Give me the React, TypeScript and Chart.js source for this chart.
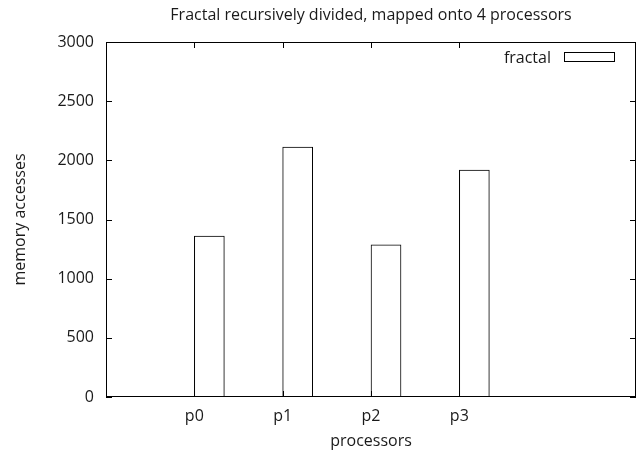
import React, { useEffect, useRef } from "react";
import { Chart, registerables } from "chart.js";

Chart.register(...registerables);

const processors = ["p0", "p1", "p2", "p3"];
const accesses = [1360, 2113, 1287, 1918];
const yTicks = [0, 500, 1000, 1500, 2000, 2500, 3000];
const seriesLabel = "fractal";
const titleText = "Fractal recursively divided, mapped onto 4 processors";
const xTitle = "processors";
const yTitle = "memory accesses";

const FONT = "'Open Sans', sans-serif";
const TEXT = "#1a1a1a";
const SIZE = 16;

const gnuplotPlugin = {
  id: "gnuplotDecor",
  afterDraw(chart: any) {
    const { ctx, chartArea: a, scales } = chart;
    const x = scales.x;
    const y = scales.y;
    ctx.save();
    ctx.strokeStyle = "#000";
    ctx.lineWidth = 1;
    // frame
    ctx.strokeRect(a.left + 0.5, a.top + 0.5, a.right - a.left - 1, a.bottom - a.top - 1);
    ctx.beginPath();
    yTicks.forEach((v) => {
      const py = Math.round(y.getPixelForValue(v)) + 0.5;
      ctx.moveTo(a.left, py);
      ctx.lineTo(a.left + 6, py);
      ctx.moveTo(a.right - 6, py);
      ctx.lineTo(a.right, py);
    });
    processors.forEach((_, i) => {
      const px = Math.round(x.getPixelForValue(i)) + 0.5;
      ctx.moveTo(px, a.top);
      ctx.lineTo(px, a.top + 6);
      ctx.moveTo(px, a.bottom);
      ctx.lineTo(px, a.bottom - 6);
    });
    ctx.stroke();

    ctx.fillStyle = TEXT;
    ctx.font = `${SIZE}px ${FONT}`;
    ctx.textAlign = "center";
    ctx.textBaseline = "alphabetic";
    const cx = (a.left + a.right) / 2;
    ctx.fillText(titleText, cx, 19.5);
    ctx.fillText(xTitle, cx, 446);
    ctx.save();
    ctx.translate(25, (a.top + a.bottom) / 2);
    ctx.rotate(-Math.PI / 2);
    ctx.fillText(yTitle, 0, 0);
    ctx.restore();

    // legend
    ctx.textAlign = "right";
    ctx.fillText(seriesLabel, 551, 63);
    ctx.strokeRect(564.5, 52.5, 50, 9);
    ctx.restore();
  },
};

export default function App() {
  const ref = useRef<HTMLCanvasElement>(null);
  useEffect(() => {
    document.body.style.margin = "0";
    const chart = new Chart(ref.current!, {
      type: "bar",
      data: {
        datasets: [
          {
            label: seriesLabel,
            data: accesses.map((v, i) => ({ x: i + 0.17, y: v })),
            backgroundColor: "#ffffff",
            borderColor: "#000000",
            borderWidth: 1,
            borderSkipped: false,
            barThickness: 30,
            grouped: false,
          } as any,
        ],
      },
      options: {
        animation: false,
        responsive: false,
        maintainAspectRatio: false,
        layout: { padding: { top: 42, right: 6, left: 0, bottom: 0 } },
        plugins: {
          legend: { display: false },
          title: { display: false },
          tooltip: { enabled: false },
        },
        scales: {
          x: {
            type: "linear",
            min: -1,
            max: 5,
            offset: false,
            grid: { display: false, drawTicks: false },
            border: { display: false },
            afterBuildTicks: (s: any) => {
              s.ticks = processors.map((_, i) => ({ value: i }));
            },
            afterFit: (s: any) => {
              s.height = 57;
            },
            ticks: {
              padding: 10,
              color: TEXT,
              font: { family: FONT, size: SIZE },
              maxRotation: 0,
              autoSkip: false,
              callback: (v: any) => processors[v] ?? "",
            },
          },
          y: {
            type: "linear",
            min: 0,
            max: 3000,
            grid: { display: false, drawTicks: false },
            border: { display: false },
            afterBuildTicks: (s: any) => {
              s.ticks = yTicks.map((v) => ({ value: v }));
            },
            afterFit: (s: any) => {
              s.width = 106;
            },
            ticks: {
              padding: 12,
              color: TEXT,
              font: { family: FONT, size: SIZE },
              callback: (v: any) => String(v),
            },
          },
        },
      },
      plugins: [gnuplotPlugin],
    });
    return () => chart.destroy();
  }, []);
  return (
    <div style={{ position: "absolute", left: 0, top: 0, width: 642, height: 454 }}>
      <canvas ref={ref} width={642} height={454} style={{ width: 642, height: 454 }} />
    </div>
  );
}
